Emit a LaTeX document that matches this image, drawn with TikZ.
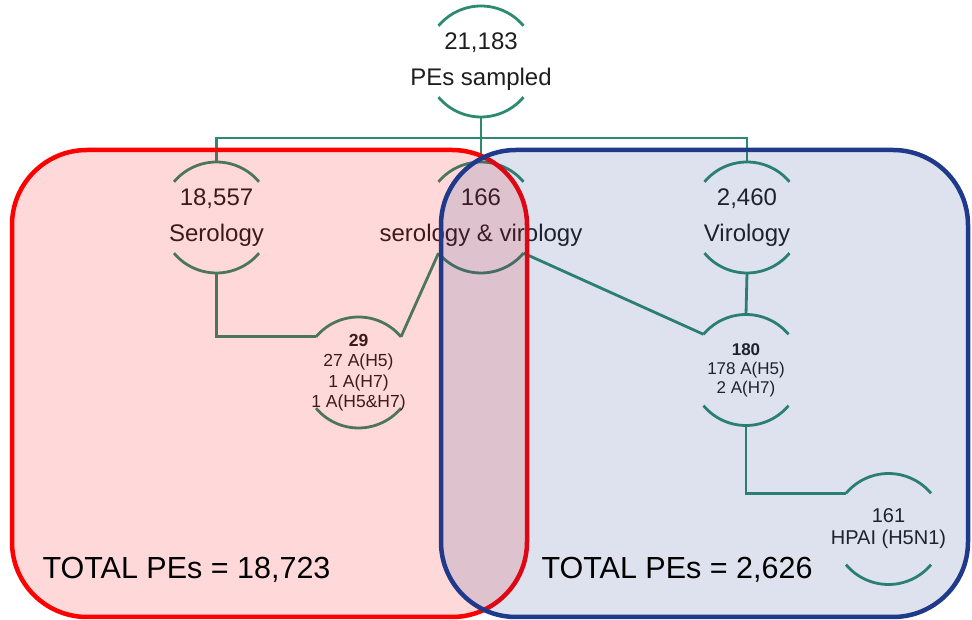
\documentclass[tikz,border=0pt]{standalone}
\usepackage{xcolor}
\usepackage{fontspec}
\setmainfont{Liberation Sans}
\usetikzlibrary{positioning, calc}

\definecolor{linkgreen}{RGB}{44,139,110}
\definecolor{serored}{RGB}{255,0,0}
\definecolor{viroblue}{RGB}{31,58,138}
\definecolor{txt}{RGB}{30,30,30}

\begin{document}
\begin{tikzpicture}[x=1pt, y=1pt,
		pe/.style={circle, minimum size=111pt, inner sep=0pt, outer sep=0pt},
		link/.style={linkgreen, line width=2.8pt},
		bigtxt/.style={text=txt, align=center, font=\fontsize{24}{36}\selectfont},
		smalltxt/.style={text=txt, align=center, font=\fontsize{17.5}{20.5}\selectfont},
		group/.style={line width=4.5pt, rounded corners=75pt, fill opacity=0.15},
		total/.style={font=\fontsize{30.5}{34}\selectfont}]
	
	\useasboundingbox (0,0) rectangle (972,620);
	
	% Sample groups
	\node[pe] (top) at (481,558.5) {};
	\node[pe] (sero) at (216.5,402.5) {};
	\node[pe] (both) at (481,402.5) {};
	\node[pe] (viro) at (747,402.5) {};
	
	% Positive results
	\node[pe] (n29) at (358.5,247.5) {};
	\node[pe] (n180) at (746,250) {};
	\node[pe] (n161) at (888.5,91) {};
	
	% Open circles
	\foreach \n in {top,sero,both,viro,n29,n180,n161}
		\draw[link] (\n.40) arc (40:140:55.5pt) (\n.220) arc (220:320:55.5pt);
	
	% Texts
	\node[bigtxt] (top-t) at (top) {21,183\\PEs sampled};
	\node[bigtxt] (sero-t) at (sero) {18,557\\Serology};
	\node[bigtxt] (both-t) at (both) {166\\serology \& virology};
	\node[bigtxt] (viro-t) at (viro) {2,460\\Virology};
	\node[smalltxt] (n29-t) at (n29) {\textbf{29}\\27 A(H5)\\1 A(H7)\\1 A(H5\&H7)};
	\node[smalltxt, font=\fontsize{17}{19}\selectfont] (n180-t) at (n180) {\textbf{180}\\178 A(H5)\\2 A(H7)};
	\node[smalltxt, font=\fontsize{20}{22}\selectfont] (n161-t) at (n161) {161\\HPAI (H5N1)};
	
	% Connectors
	\coordinate (bus) at (481,482);
	\draw[link] (top.south) -- (bus);
	\draw[link] (sero.north) |- (bus) -| (viro.north);
	\draw[link] (bus) -- (both.north);
	\draw[link] (sero.south) |- (n29.140);
	\draw[link] (n29.40) -- (both.220);
	\draw[link] (both.320) -- (n180.140);
	\draw[link] (viro.south) -- (n180.north);
	\draw[link] (n180.south) |- (n161.140);
	
	% Serology and virology boxes
	\draw[group, draw=serored, fill=serored] (12,3) rectangle (527,470);
	\draw[group, draw=viroblue, fill=viroblue] (441,3) rectangle (968,470);
	
	% Totals
	\node[total] (sero-total) at (186.5,50) {TOTAL PEs = 18,723};
	\node[total] (viro-total) at (677,50) {TOTAL PEs = 2,626};
	
\end{tikzpicture}
\end{document}
